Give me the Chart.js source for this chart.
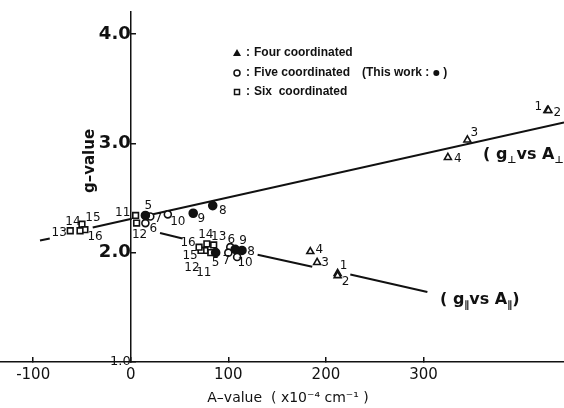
<!DOCTYPE html>
<html>
<head>
<meta charset="utf-8">
<script src="https://cdn.jsdelivr.net/npm/chart.js"></script>
<style>
  html, body { margin: 0; padding: 0; background: #fff; }
  #box { width: 564px; height: 408px; }
</style>
</head>
<body>
<div id="box"><canvas id="gchart"></canvas></div>
<script>

// complex numbers, A in 1e-4 cm-1, g values
var fourNo = [1, 2, 3, 4];
var fourPerpA = [427, 428, 345, 325];
var fourPerpG = [3.30, 3.30, 3.03, 2.87];
var fourParA = [212, 212, 191, 184];
var fourParG = [1.81, 1.79, 1.91, 2.01];

var fiveNo = [6, 7, 10];
var fivePerpA = [15, 20, 38];
var fivePerpG = [2.27, 2.33, 2.35];
var fiveParA = [102, 100, 109];
var fiveParG = [2.05, 2.00, 1.96];

// this work (filled circles)
var thisNo = [5, 8, 9];
var thisPerpA = [15, 84, 64];
var thisPerpG = [2.34, 2.43, 2.36];
var thisParA = [87, 114, 107];
var thisParG = [2.00, 2.02, 2.03];

var sixNo = [11, 12, 13, 14, 15, 16];
var sixPerpA = [5, 6, -62, -50, -47, -52];
var sixPerpG = [2.34, 2.27, 2.20, 2.26, 2.21, 2.20];
var sixParA = [82, 76, 85, 78, 72, 70];
var sixParG = [2.00, 2.02, 2.07, 2.08, 2.02, 2.05];

// fitted lines (null = break in the drawn line)
var perpLineA = [-93, -83, null, -39, 1, null, 17, 444];
var perpLineG = [2.11, 2.13, null, 2.23, 2.31, null, 2.34, 3.19];
var parLineA = [30, 53, null, 130, 186, null, 225, 304];
var parLineG = [2.18, 2.13, null, 1.98, 1.87, null, 1.80, 1.64];

var xTicks = [-100, 0, 100, 200, 300];
var yTicks = [1.0, 2.0, 3.0, 4.0];

// where the little numbers sit next to their marks (px)
var perpNumPos = {1: [-9, -4], 2: [9, 2], 3: [7, -7], 4: [10, 1], 5: [3, -10], 6: [8, 6],
  7: [8, 2], 8: [10, 5], 9: [8, 6], 10: [10, 8], 11: [-13, -3], 12: [3, 12],
  13: [-11, 2], 14: [-9, -2], 15: [8, -12], 16: [15, 6]};
var parNumPos = {1: [6, -8], 2: [8, 6], 3: [8, 0], 4: [9, -2], 5: [0, 10], 6: [1, -7],
  7: [-2, 8], 8: [9, 1], 9: [8, -8], 10: [8, 6], 11: [-7, 20], 12: [-13, 17],
  13: [5, -8], 14: [-1, -9], 15: [-11, 5], 16: [-11, -4]};

function pts(a, g) {
  return a.map(function (v, i) { return { x: v, y: g[i] }; });
}

var ink = '#111';

function markSet(data, style, fill, r) {
  return {
    data: data,
    pointStyle: style,
    pointRadius: r,
    pointBackgroundColor: fill,
    pointBorderColor: ink,
    pointBorderWidth: 1.6,
    showLine: false
  };
}

function lineSet(data) {
  return {
    type: 'line',
    data: data,
    borderColor: ink,
    borderWidth: 2,
    pointRadius: 0,
    spanGaps: false,
    fill: false
  };
}

function drawNums(ctx, sx, sy, nos, a, g, pos) {
  nos.forEach(function (n, i) {
    var o = pos[n] || [8, 0];
    ctx.fillText(String(n), sx.getPixelForValue(a[i]) + o[0], sy.getPixelForValue(g[i]) + o[1]);
  });
}

// text with subscripts: parts = [[text, isSub], ...]
function drawParts(ctx, x, y, parts) {
  parts.forEach(function (p) {
    ctx.font = p[1] ? 'bold 10px "DejaVu Sans"' : 'bold 16px "DejaVu Sans"';
    ctx.fillText(p[0], x, y + (p[1] ? 5 : 0));
    x += ctx.measureText(p[0]).width;
  });
}

var textPlugin = {
  id: 'textPlugin',
  afterDatasetsDraw: function (chart) {
    var ctx = chart.ctx;
    var sx = chart.scales.x, sy = chart.scales.y;
    ctx.save();
    ctx.fillStyle = ink;
    ctx.strokeStyle = ink;

    // numbers
    ctx.font = '12px "DejaVu Sans"';
    ctx.textAlign = 'center';
    ctx.textBaseline = 'middle';
    drawNums(ctx, sx, sy, fourNo, fourPerpA, fourPerpG, perpNumPos);
    drawNums(ctx, sx, sy, fiveNo, fivePerpA, fivePerpG, perpNumPos);
    drawNums(ctx, sx, sy, thisNo, thisPerpA, thisPerpG, perpNumPos);
    drawNums(ctx, sx, sy, sixNo, sixPerpA, sixPerpG, perpNumPos);
    drawNums(ctx, sx, sy, fourNo, fourParA, fourParG, parNumPos);
    drawNums(ctx, sx, sy, fiveNo, fiveParA, fiveParG, parNumPos);
    drawNums(ctx, sx, sy, thisNo, thisParA, thisParG, parNumPos);
    drawNums(ctx, sx, sy, sixNo, sixParA, sixParG, parNumPos);

    // key
    ctx.lineWidth = 1.5;
    ctx.beginPath();
    ctx.moveTo(233, 56); ctx.lineTo(241, 56); ctx.lineTo(237, 49); ctx.closePath();
    ctx.fill();
    ctx.beginPath();
    ctx.arc(237, 73, 3, 0, Math.PI * 2);
    ctx.stroke();
    ctx.strokeRect(234.5, 89.5, 5, 5);
    ctx.textAlign = 'left';
    ctx.font = 'bold 12px "Liberation Sans"';
    ctx.fillText(':', 246, 53);
    ctx.fillText(':', 246, 73);
    ctx.fillText(':', 246, 92);
    ctx.fillText('Four coordinated', 254, 53);
    ctx.fillText('Five coordinated', 254, 73);
    var tw = '(This work :';
    ctx.fillText(tw, 362, 73);
    var dx = 362 + ctx.measureText(tw).width + 7;
    ctx.beginPath();
    ctx.arc(dx, 73, 3, 0, Math.PI * 2);
    ctx.fill();
    ctx.fillText(')', dx + 7, 73);
    ctx.fillText('Six  coordinated', 254, 92);

    // line names
    drawParts(ctx, 483, 155, [['( g', 0], ['\u22a5', 1], ['vs A', 0], ['\u22a5', 1], [')', 0]]);
    drawParts(ctx, 440, 300, [['( g', 0], ['\u2225', 1], ['vs A', 0], ['\u2225', 1], [')', 0]]);

    // axis titles
    ctx.font = '14px "DejaVu Sans"';
    ctx.textAlign = 'center';
    ctx.fillText('A\u2013value  ( x10\u207b\u2074 cm\u207b\u00b9 )', 288, 398);
    ctx.save();
    ctx.translate(90, 161);
    ctx.rotate(-Math.PI / 2);
    ctx.font = 'bold 15px "DejaVu Sans"';
    ctx.fillText('g\u2013value', 0, 0);
    ctx.restore();

    ctx.restore();
  }
};

new Chart('gchart', {
  type: 'scatter',
  data: {
    datasets: [
      markSet(pts(thisPerpA, thisPerpG), 'circle', ink, 4),
      markSet(pts(thisParA, thisParG), 'circle', ink, 4),
      markSet(pts(fivePerpA, fivePerpG), 'circle', '#fff', 3.5),
      markSet(pts(fiveParA, fiveParG), 'circle', '#fff', 3.5),
      markSet(pts(sixPerpA, sixPerpG), 'rect', '#fff', 4),
      markSet(pts(sixParA, sixParG), 'rect', '#fff', 4),
      markSet(pts(fourPerpA, fourPerpG), 'triangle', '#fff', 4),
      markSet(pts(fourParA, fourParG), 'triangle', '#fff', 4),
      lineSet(pts(perpLineA, perpLineG)),
      lineSet(pts(parLineA, parLineG))
    ]
  },
  options: {
    responsive: true,
    maintainAspectRatio: false,
    animation: false,
    layout: { autoPadding: false, padding: { top: 12, left: 0, right: 0, bottom: 0 } },
    plugins: {
      legend: { display: false },
      tooltip: { enabled: false }
    },
    scales: {
      x: {
        type: 'linear',
        position: 'bottom',
        min: -134,
        max: 444,
        afterBuildTicks: function (s) { s.ticks = xTicks.map(function (v) { return { value: v }; }); },
        afterFit: function (s) { s.height = 46; s.paddingLeft = 0; s.paddingRight = 0; },
        grid: { drawOnChartArea: false, tickLength: -5, color: ink, lineWidth: 1.5 },
        border: { color: ink, width: 1.5 },
        ticks: { padding: 9, color: ink, font: { family: 'DejaVu Sans', size: 15 } }
      },
      y: {
        type: 'linear',
        position: { x: 0 },
        min: 1.0,
        max: 4.2,
        afterBuildTicks: function (s) { s.ticks = yTicks.map(function (v) { return { value: v }; }); },
        afterFit: function (s) { s.paddingLeft = 0; s.paddingRight = 0; },
        grid: { drawOnChartArea: false, tickLength: -6, color: ink, lineWidth: 1.5 },
        border: { color: ink, width: 1.5 },
        ticks: {
          padding: 1,
          color: ink,
          callback: function (v) { return v.toFixed(1); },
          font: function (c) {
            return c.tick && c.tick.value === 1 ? { family: 'DejaVu Sans', size: 13 } :
              { family: 'DejaVu Sans', size: 18, weight: 'bold' };
          }
        }
      }
    }
  },
  plugins: [textPlugin]
});
</script>
</body>
</html>
